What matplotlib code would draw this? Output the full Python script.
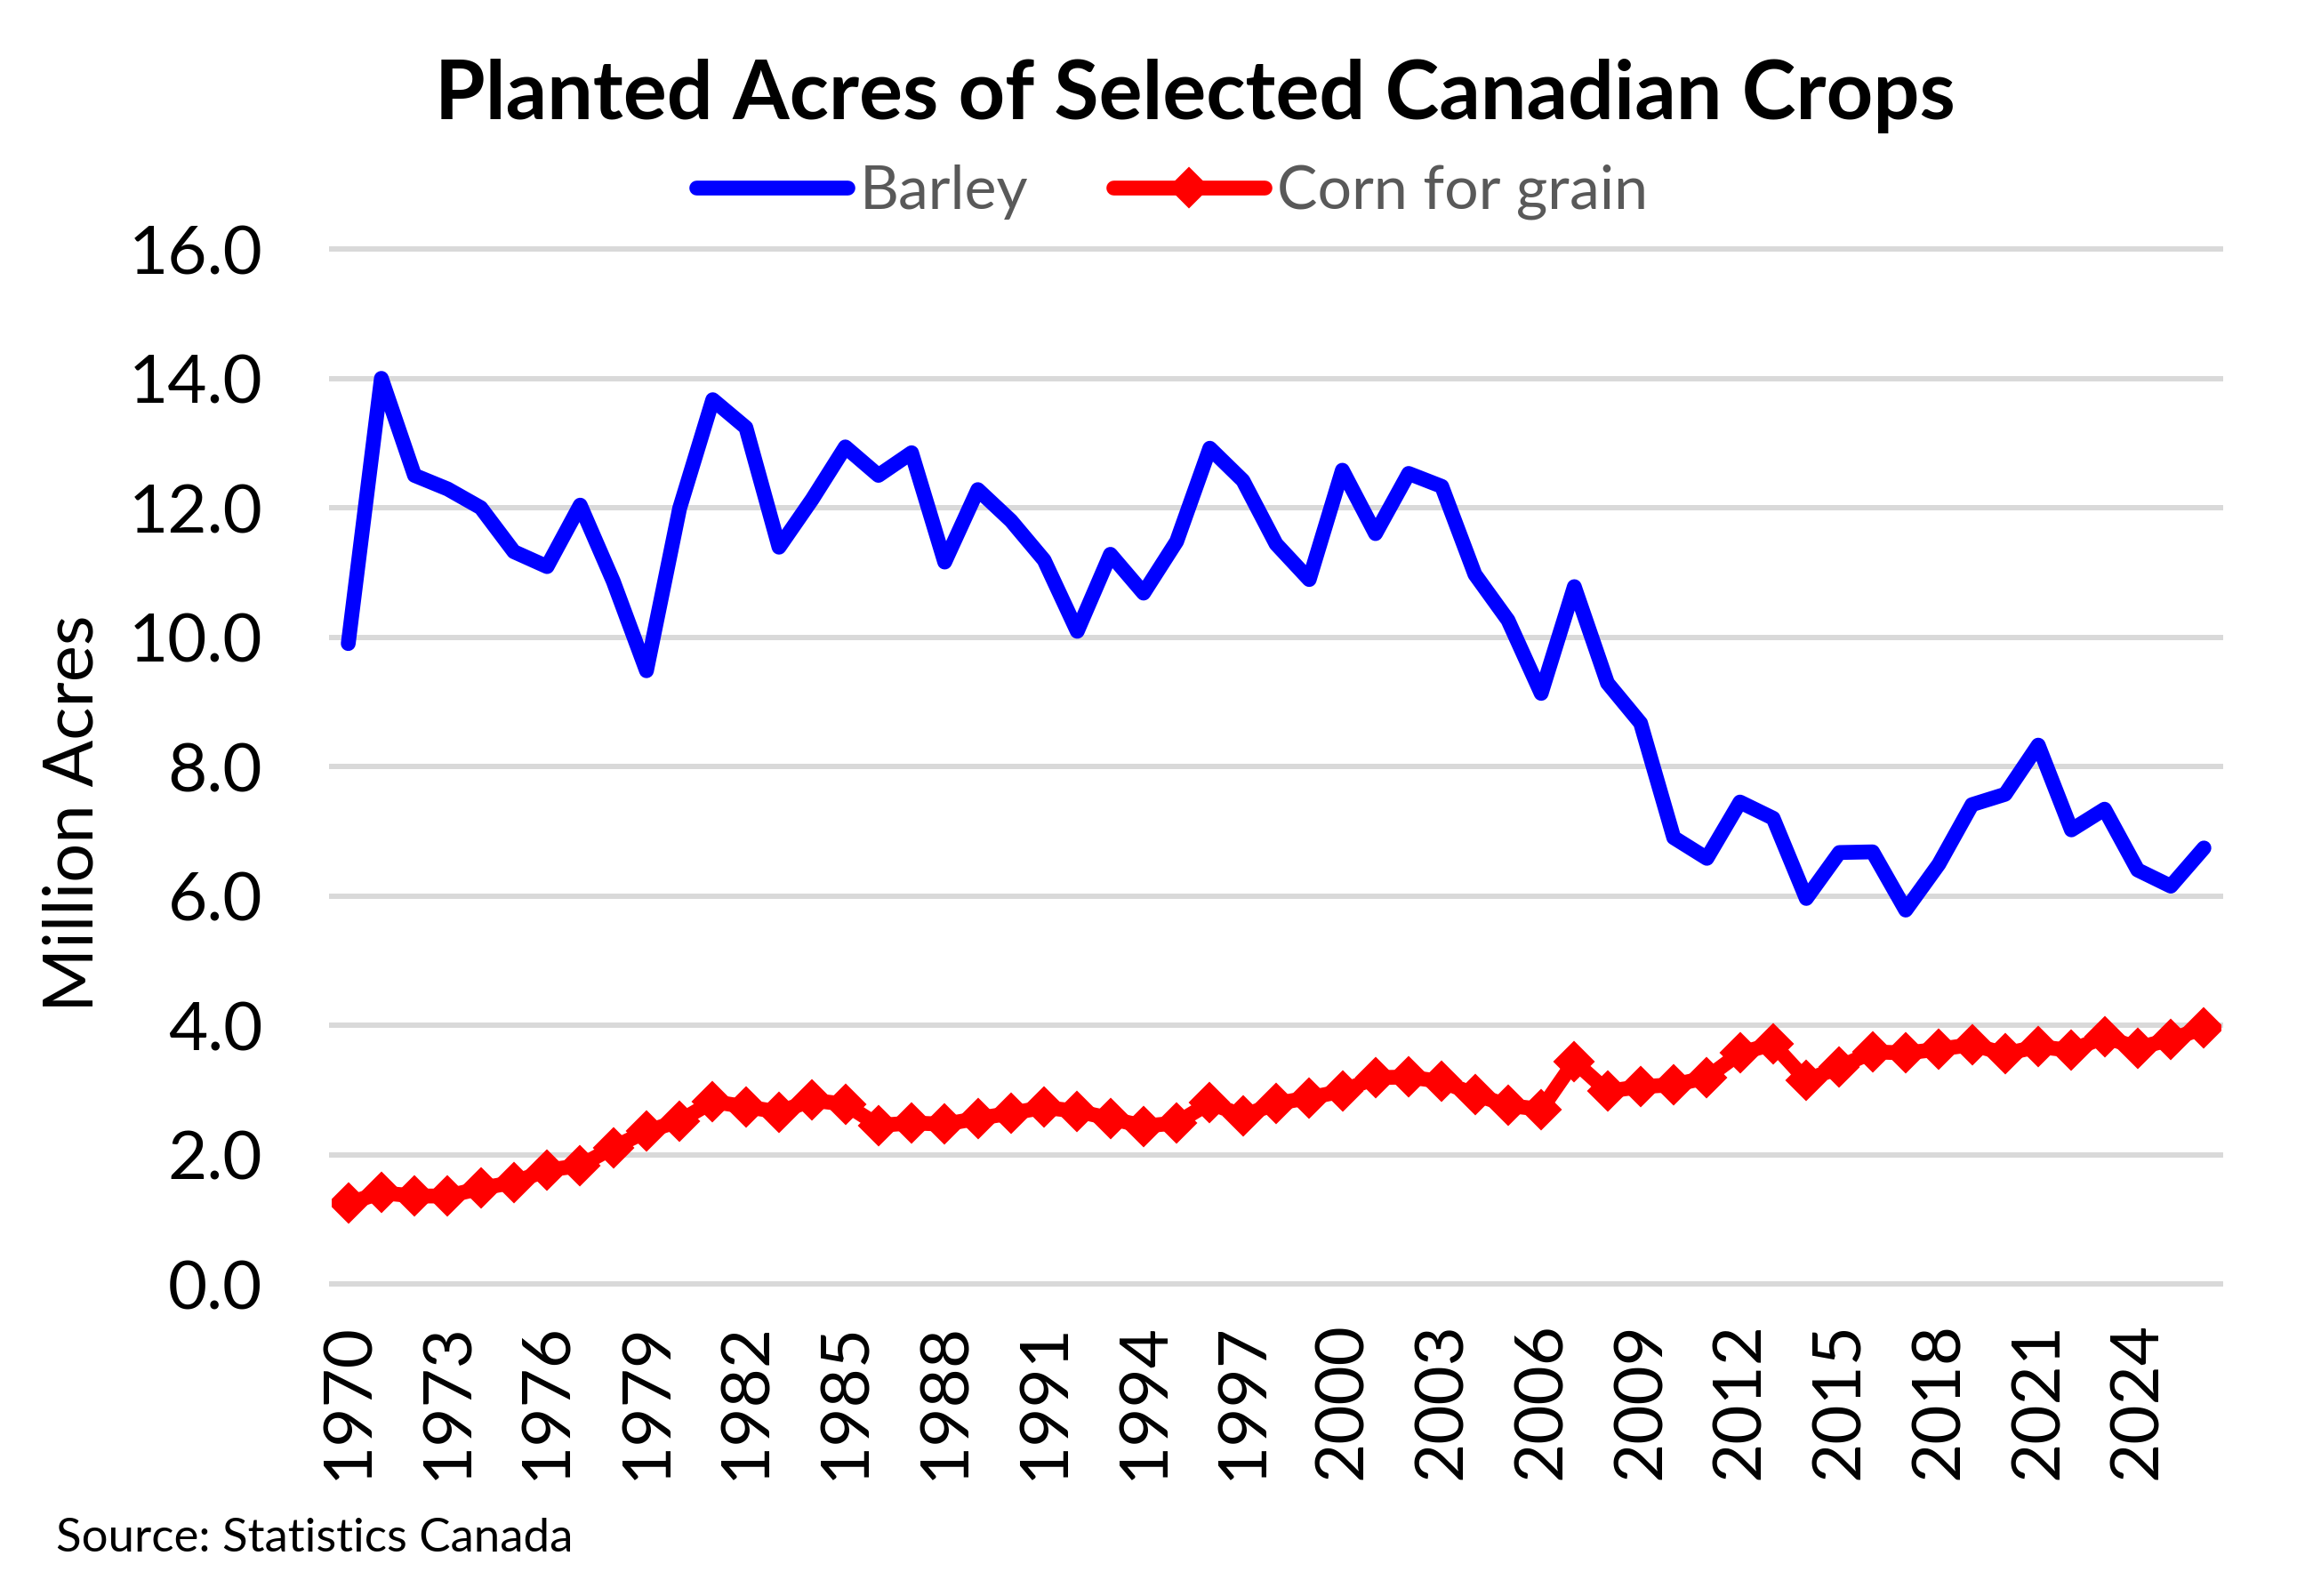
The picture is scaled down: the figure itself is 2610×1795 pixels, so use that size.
import numpy as np
import matplotlib
matplotlib.use("Agg")
import matplotlib.pyplot as plt

plt.rcParams['font.family'] = ['Lato', 'DejaVu Sans']

# data (million acres)
years = list(range(1970, 2027))
barley = [9.9, 14.0, 12.5, 12.29, 12.0, 11.32, 11.09, 12.04, 10.86, 9.48,
          11.99, 13.67, 13.24, 11.39, 12.13, 12.94, 12.5, 12.85, 11.16, 12.28,
          11.80, 11.19, 10.09, 11.28, 10.68, 11.48, 12.92, 12.42, 11.44, 10.89,
          12.58, 11.6, 12.53, 12.33, 10.97, 10.26, 9.13, 10.78, 9.29, 8.67,
          6.90, 6.58, 7.45, 7.2, 5.96, 6.67, 6.68, 5.78, 6.49, 7.41,
          7.57, 8.33, 7.02, 7.34, 6.4, 6.15, 6.74]
corn = [1.25, 1.41, 1.36, 1.36, 1.48, 1.57, 1.76, 1.83, 2.11, 2.36,
        2.52, 2.82, 2.74, 2.66, 2.84, 2.78, 2.45, 2.49, 2.47, 2.56,
        2.64, 2.73, 2.67, 2.56, 2.44, 2.49, 2.80, 2.60, 2.79, 2.88,
        2.98, 3.19, 3.20, 3.13, 2.93, 2.76, 2.70, 3.44, 2.98, 3.05,
        3.08, 3.19, 3.57, 3.71, 3.15, 3.35, 3.59, 3.57, 3.63, 3.70,
        3.56, 3.67, 3.61, 3.82, 3.65, 3.78, 3.96]
xtick_years = list(range(1970, 2025, 3))
yticks = [0, 2, 4, 6, 8, 10, 12, 14, 16]

fig = plt.figure(figsize=(26.1, 17.95), dpi=100)
ax = fig.add_axes([0.1429, 0.1955, 0.8138, 0.6485])

# the two series
ax.plot(years, barley, color='#0000FF', lw=12, solid_joinstyle='round',
        solid_capstyle='round', label='Barley', zorder=3)
ax.plot(years, corn, color='#FF0000', lw=12, marker='D', markersize=22,
        markeredgewidth=1.5, solid_joinstyle='round', solid_capstyle='round',
        label='Corn for grain', zorder=3)

# axes and grid
ax.set_xlim(1969.5, 2026.5)
ax.set_ylim(0, 16)
ax.set_yticks(yticks)
ax.set_yticklabels([f'{v:.1f}' for v in yticks])
ax.set_xticks(xtick_years)
ax.set_xticklabels([str(y) for y in xtick_years], rotation=90)
ax.tick_params(axis='both', length=0, labelsize=55, colors='black')
ax.tick_params(axis='y', pad=56)
ax.tick_params(axis='x', pad=31)
ax.yaxis.grid(True, color='#D9D9D9', lw=4.3)
ax.set_axisbelow(True)
for gl in ax.get_ygridlines():
    gl.set_clip_on(False)
for s in ax.spines.values():
    s.set_visible(False)

ax.set_ylabel('Million Acres', fontsize=56, va='center')
ax.yaxis.set_label_coords(-0.1365, 0.455)

# titles and notes
fig.text(0.515, 0.94, 'Planted Acres of Selected Canadian Crops',
         ha='center', va='center', fontsize=66, fontweight='bold')
fig.text(0.024, 0.028, 'Source: Statistics Canada', ha='left', va='baseline',
         fontsize=38)

leg = ax.legend(loc='center', bbox_to_anchor=(0.505, 0.8797),
                bbox_transform=fig.transFigure, ncol=2, frameon=False,
                fontsize=49, handlelength=2.5, handletextpad=0.2,
                columnspacing=1.4, numpoints=1)
for t in leg.get_texts():
    t.set_color('#595959')

fig.savefig('out.png', dpi=100)
